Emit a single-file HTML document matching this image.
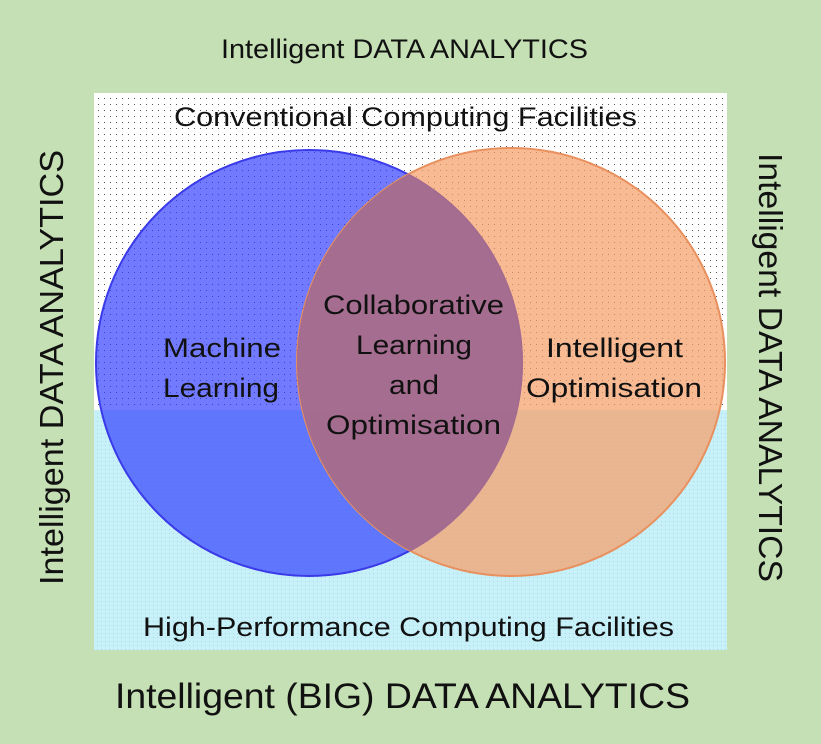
<!DOCTYPE html>
<html><head><style>
html,body{margin:0;padding:0;background:#c5e0b4;}
svg{display:block;font-family:"Liberation Sans","DejaVu Sans",sans-serif;}
</style></head><body>
<svg width="821" height="744" viewBox="0 0 821 744" xmlns="http://www.w3.org/2000/svg">
<defs>
<pattern id="dots" width="6" height="6" patternUnits="userSpaceOnUse"><rect width="6" height="6" fill="#ffffff"/><rect x="2" y="2" width="1" height="1" fill="#555"/></pattern>
<pattern id="cdots" width="4" height="4" patternUnits="userSpaceOnUse"><rect width="4" height="4" fill="#c8f0f8"/><rect x="1" y="1" width="1" height="1" fill="#9fdbe8"/></pattern>
<clipPath id="cb"><circle cx="309" cy="363" r="214"/></clipPath>
</defs>
<rect width="821" height="744" fill="#c5e0b4"/>
<rect x="94" y="93" width="633" height="317" fill="url(#dots)"/>
<rect x="94" y="410" width="633" height="240" fill="url(#cdots)"/>
<circle cx="309" cy="363" r="213" fill="#2f3cff" fill-opacity="0.68" stroke="#3a3ae8" stroke-width="2"/>
<circle cx="511" cy="362" r="214" fill="#f5a06a" fill-opacity="0.72" stroke="#e8905e" stroke-width="2"/>
<circle cx="511" cy="362" r="214" fill="#a0688f" fill-opacity="0.9" clip-path="url(#cb)"/>
<g fill="#111" font-size="27" lengthAdjust="spacingAndGlyphs">
<text x="221" y="58" textLength="367" lengthAdjust="spacingAndGlyphs">Intelligent DATA ANALYTICS</text>
<text x="174" y="126" textLength="463" lengthAdjust="spacingAndGlyphs">Conventional Computing Facilities</text>
<text x="163" y="357" textLength="118" lengthAdjust="spacingAndGlyphs">Machine</text>
<text x="163" y="397" textLength="116" lengthAdjust="spacingAndGlyphs">Learning</text>
<text x="323" y="314" textLength="181" lengthAdjust="spacingAndGlyphs">Collaborative</text>
<text x="356" y="354" textLength="116" lengthAdjust="spacingAndGlyphs">Learning</text>
<text x="389" y="394" textLength="50" lengthAdjust="spacingAndGlyphs">and</text>
<text x="326" y="434" textLength="175" lengthAdjust="spacingAndGlyphs">Optimisation</text>
<text x="546" y="357" textLength="137" lengthAdjust="spacingAndGlyphs">Intelligent</text>
<text x="526" y="397" textLength="176" lengthAdjust="spacingAndGlyphs">Optimisation</text>
<text x="143" y="636" textLength="531" lengthAdjust="spacingAndGlyphs">High-Performance Computing Facilities</text>
<text x="115" y="708" font-size="35" textLength="575" lengthAdjust="spacingAndGlyphs">Intelligent (BIG) DATA ANALYTICS</text>
<text transform="translate(63,585) rotate(-90)" font-size="33" textLength="435" lengthAdjust="spacingAndGlyphs">Intelligent DATA ANALYTICS</text>
<text transform="translate(759,153) rotate(90)" font-size="33" textLength="429" lengthAdjust="spacingAndGlyphs">Intelligent DATA ANALYTICS</text>
</g>
</svg>
</body></html>
